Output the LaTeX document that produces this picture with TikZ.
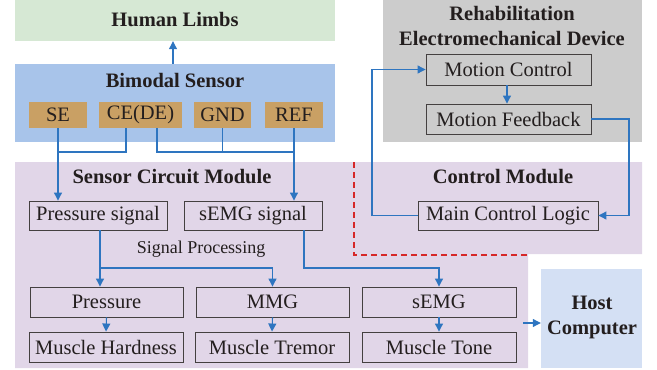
\documentclass[tikz,border=0pt]{standalone}
\usepackage{fontspec}
\setmainfont{Liberation Serif}
\usetikzlibrary{arrows.meta,calc}
\definecolor{limbsgreen}{RGB}{214,232,212}
\definecolor{sensorblue}{RGB}{168,196,234}
\definecolor{tan}{RGB}{201,160,100}
\definecolor{devgray}{RGB}{204,204,204}
\definecolor{modpurple}{RGB}{225,214,232}
\definecolor{hostblue}{RGB}{212,224,244}
\definecolor{linkblue}{RGB}{46,117,192}
\definecolor{dashred}{RGB}{214,40,40}
\definecolor{ink}{RGB}{35,30,30}
\tikzset{
  x=1pt,y=-1pt,
  every node/.style={font=\fontsize{20.5}{23}\selectfont, text=ink, inner sep=0pt},
  area/.style={draw=none},
  title/.style={font=\fontsize{20.5}{25}\selectfont\bfseries, align=center},
  pad/.style={fill=tan, draw=none, minimum height=26pt},
  blk/.style={draw=ink!85, line width=0.9pt, minimum height=30pt},
  link/.style={draw=linkblue, line width=1.1pt},
  arr/.style={link, -{Triangle[length=8pt,width=8pt]}},
}
\begin{document}
\begin{tikzpicture}
\useasboundingbox (0,0) rectangle (657,370);
% background areas
\node[area, fill=limbsgreen, minimum width=320pt, minimum height=41pt] (limbs) at (175,20.5) {};
\node[area, fill=sensorblue, minimum width=320pt, minimum height=78pt] (bimodal) at (175,103) {};
\node[area, fill=devgray, minimum width=259pt, minimum height=142pt] (device) at (512.5,71) {};
\fill[modpurple] (15,162) -- (642,162) -- (642,254) -- (528,254) -- (528,368) -- (15,368) -- cycle;
\node[area, fill=hostblue, minimum width=101pt, minimum height=99pt] (host) at (591.5,318.5) {};
% titles
\node[title] (tlimbs) at (175,20) {Human Limbs};
\node[title] (tbimodal) at (175,80) {Bimodal Sensor};
\node[title] (tdevice) at (512,25.5) {Rehabilitation\\Electromechanical Device};
\node[title] (tsensor) at (172,177) {Sensor Circuit Module};
\node[title] (tcontrol) at (503,177) {Control Module};
\node[title] (thost) at (592,317.5) {Host\\Computer};
\node[font=\fontsize{18}{20}\selectfont] (tproc) at (201,249) {Signal Processing};
% electrode pads
\node[pad, minimum width=58pt] (se) at (58,115) {SE};
\node[pad, minimum width=83pt] (ce) at (140.5,115) {CE(DE)};
\node[pad, minimum width=57pt] (gnd) at (222.5,115) {GND};
\node[pad, minimum width=58pt] (ref) at (294,115) {REF};
% device blocks
\node[blk, minimum width=165pt, minimum height=31pt] (mc) at (508.5,69.5) {Motion Control};
\node[blk, minimum width=165pt] (mf) at (508.5,119) {Motion Feedback};
% module blocks
\node[blk, minimum width=138pt, minimum height=29pt] (psig) at (98,215.5) {Pressure signal};
\node[blk, minimum width=138pt, minimum height=29pt] (esig) at (253,215.5) {sEMG signal};
\node[blk, minimum width=180pt, minimum height=29pt] (mcl) at (508,215.5) {Main Control Logic};
\node[blk, minimum width=153pt] (pres) at (106.5,302) {Pressure};
\node[blk, minimum width=153pt] (mmg) at (272.5,302) {MMG};
\node[blk, minimum width=154pt] (semg) at (439,302) {sEMG};
\node[blk, minimum width=154pt] (hard) at (106,347) {Muscle Hardness};
\node[blk, minimum width=154pt] (trem) at (272,347) {Muscle Tremor};
\node[blk, minimum width=154pt] (tone) at (439,347) {Muscle Tone};
% helper coordinates
\coordinate (j1) at (0,152);
\coordinate (j2) at (0,268);
\coordinate (c1) at (629,215.5);
\coordinate (c2) at (372,69.5);
\coordinate (hs) at (523,323);
\coordinate (cel) at ([xshift=-14.5pt]ce.south);
\coordinate (cer) at ([xshift=16.5pt]ce.south);
\coordinate (pss) at ([xshift=2pt]psig.south);
\coordinate (ess) at ([xshift=51pt]esig.south);
% red dashed separator
\draw[dashred, line width=1.4pt, dash pattern=on 6pt off 4pt] (354,162) -- (354,255) -- (528,255);
% connectors
\draw[arr] ([xshift=-2pt]bimodal.north) -- ([xshift=-2pt]limbs.south);
\draw[link] (se.south) -- (se.south |- j1) -- (cel |- j1) -- (cel);
\draw[arr] (se.south |- j1) -- (se.south |- psig.north);
\draw[link] (cer) -- (cer |- j1) -- (ref.south |- j1) -- (ref.south);
\draw[link] (gnd.south) -- (gnd.south |- j1);
\draw[arr] (ref.south) -- (ref.south |- esig.north);
\draw[arr] (pss) -- (pss |- pres.north);
\draw[arr] (pss |- j2) -- (mmg.north |- j2) -- (mmg.north);
\draw[arr] (ess) -- (ess |- j2) -- (semg.north |- j2) -- (semg.north);
\draw[arr] (pres.south) -- (hard.north);
\draw[arr] (mmg.south) -- (trem.north);
\draw[arr] (semg.south) -- (tone.north);
\draw[arr] (hs) -- (hs -| host.west);
\draw[arr] ([xshift=-1.5pt]mc.south) -- ([xshift=-1.5pt]mf.north);
\draw[arr] (mf.east) -| (c1) -- (mcl.east);
\draw[arr] (mcl.west) -| (c2) -- (mc.west);
\end{tikzpicture}
\end{document}
